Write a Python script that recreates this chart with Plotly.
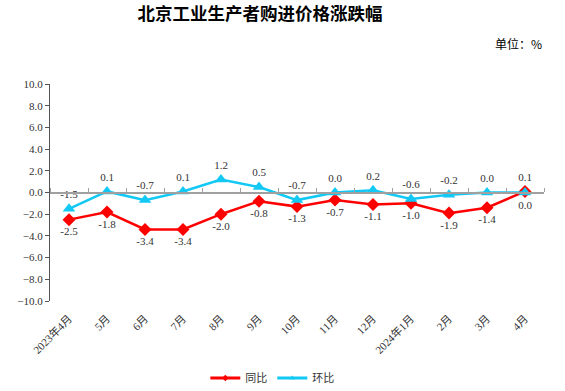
import plotly.graph_objects as go

categories = ["2023年4月", "5月", "6月", "7月", "8月", "9月", "10月", "11月", "12月",
              "2024年1月", "2月", "3月", "4月"]
yoy = [-2.5, -1.8, -3.4, -3.4, -2.0, -0.8, -1.3, -0.7, -1.1, -1.0, -1.9, -1.4, 0.1]
mom = [-1.5, 0.1, -0.7, 0.1, 1.2, 0.5, -0.7, 0.0, 0.2, -0.6, -0.2, 0.0, 0.0]
yoy_pos = ["bottom center"] * 12 + ["top center"]
mom_pos = ["top center"] * 12 + ["bottom center"]

RED = "#FF0000"
CYAN = "#12C8F5"
SERIF = "Liberation Serif, Noto Sans CJK SC"
CJK = "Noto Sans CJK SC"

fig = go.Figure()
fig.add_trace(go.Scatter(
    x=categories, y=yoy, name="同比", mode="lines+markers+text",
    line=dict(color=RED, width=2.5),
    marker=dict(symbol="diamond", size=10, color=RED),
    text=[f"{v:.1f}" for v in yoy], textposition=yoy_pos,
    textfont=dict(family=SERIF, size=11, color="#333333"),
    cliponaxis=False, showlegend=False,
))
fig.add_trace(go.Scatter(
    x=categories, y=mom, name="环比", mode="lines+markers+text",
    line=dict(color=CYAN, width=2.5),
    marker=dict(symbol="triangle-up", size=11, color=CYAN),
    text=[f"{v:.1f}" for v in mom], textposition=mom_pos,
    textfont=dict(family=SERIF, size=11, color="#333333"),
    cliponaxis=False, showlegend=False,
))
# legend-only entries with smaller markers
fig.add_trace(go.Scatter(x=[None], y=[None], name="同比", mode="lines+markers",
                         line=dict(color=RED, width=3),
                         marker=dict(symbol="diamond", size=5, color=RED)))
fig.add_trace(go.Scatter(x=[None], y=[None], name="环比", mode="lines+markers",
                         line=dict(color=CYAN, width=3),
                         marker=dict(symbol="triangle-up", size=5, color=CYAN)))
# invisible helper trace for the zero-line category axis
fig.add_trace(go.Scatter(x=categories, y=[0] * len(categories), xaxis="x2",
                         mode="lines", line=dict(width=0), showlegend=False,
                         hoverinfo="skip", opacity=0))

fig.update_layout(
    width=565, height=391,
    margin=dict(l=50, r=21, t=84, b=90, autoexpand=False),
    paper_bgcolor="white", plot_bgcolor="white",
    title=dict(text="<b>北京工业生产者购进价格涨跌幅</b>", x=0.46, xanchor="center",
               y=0.964, yanchor="middle", font=dict(family=CJK, size=17.5, color="black")),
    annotations=[dict(text="单位：%", xref="paper", yref="paper", x=1.0, y=1.0,
                      xanchor="right", yanchor="bottom", yshift=30, showarrow=False,
                      font=dict(family=CJK, size=12, color="black"))],
    xaxis=dict(type="category", categoryorder="array", categoryarray=categories,
               range=[-0.5, 12.5], showline=False, showgrid=False, zeroline=False,
               ticks="outside", ticklen=6, tickcolor="rgba(0,0,0,0)", tickangle=-45,
               tickfont=dict(family=SERIF, size=11, color="#333333")),
    xaxis2=dict(type="category", categoryorder="array", categoryarray=categories,
                range=[-0.5, 12.5], overlaying="x", anchor="free", position=0.5,
                side="top", showline=True, linecolor="#A0A0A0", linewidth=1.5,
                ticks="outside", tickson="boundaries", ticklen=4, tickcolor="#A0A0A0",
                showticklabels=False, showgrid=False, zeroline=False),
    yaxis=dict(range=[-10, 10], dtick=2, tickformat=".1f", showgrid=False,
               zeroline=False, showline=True, linecolor="#555555", linewidth=1.2,
               ticks="outside", ticklen=4, tickcolor="#555555",
               tickfont=dict(family=SERIF, size=11, color="#333333")),
    legend=dict(orientation="h", x=0.45, xanchor="center", y=-0.355, yanchor="middle",
                font=dict(family=CJK, size=11, color="#333333"), itemwidth=30,
                tracegroupgap=0),
    showlegend=True,
)

fig.write_html("out.html", config={"displayModeBar": False},
               post_script="document.body.style.margin='0';")
